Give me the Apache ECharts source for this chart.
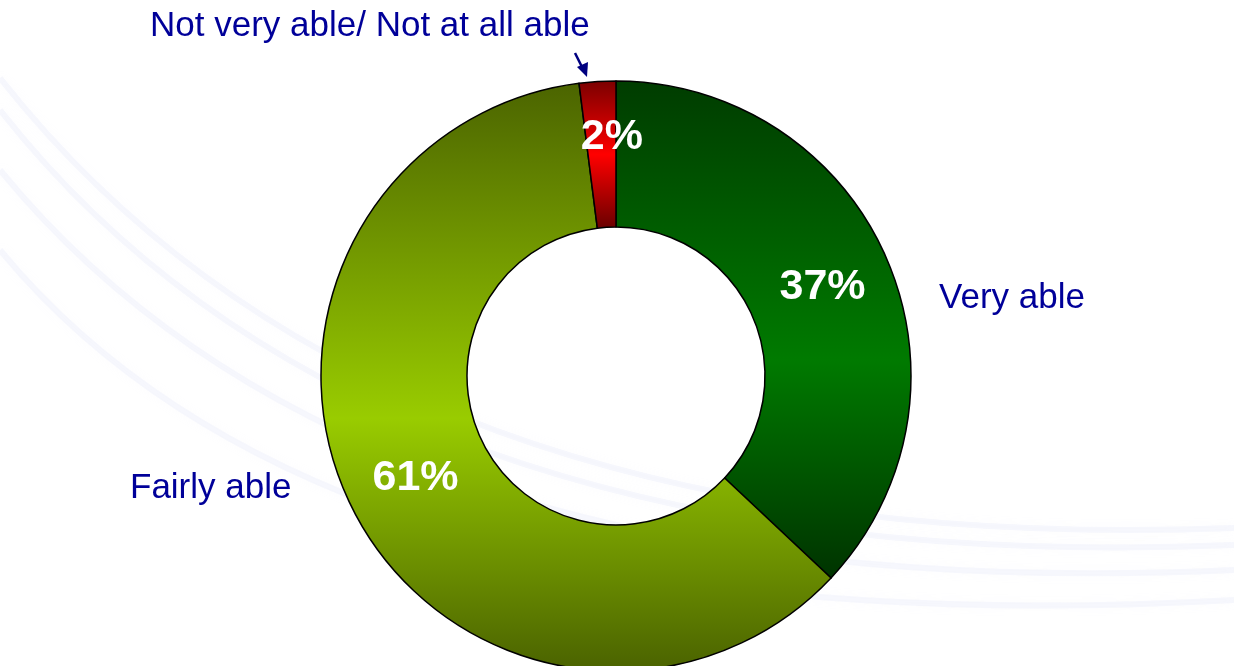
<!DOCTYPE html>
<html>
<head>
<meta charset="utf-8">
<title>Ability</title>
<script src="https://cdn.jsdelivr.net/npm/echarts@6/dist/echarts.min.js"></script>
<style>
  html, body { margin: 0; padding: 0; background: #ffffff; }
  #chart { width: 1234px; height: 666px; }
</style>
</head>
<body>
<div id="chart"></div>
<script>
// Survey answers, in clockwise order from 12 o'clock
const categories = ['Very able', 'Fairly able', 'Not very able/ Not at all able'];
const shares = [37, 61, 2];

// Vertical dark-light-dark fills for each slice
const sliceStops = [
  ['#003c00', '#007a00', '#003300'],
  ['#4b6400', '#99cc00', '#4a6200'],
  ['#7a0000', '#ff0000', '#680000']
];

function vGradient(stops, mid) {
  return new echarts.graphic.LinearGradient(0, 0, 0, 1, [
    { offset: 0, color: stops[0] },
    { offset: mid, color: stops[1] },
    { offset: 1, color: stops[2] }
  ]);
}
const mids = [0.56, 0.57, 0.5];

const chart = echarts.init(document.getElementById('chart'), null, { renderer: 'canvas' });

const labelFont = 'Liberation Sans, Arial, sans-serif';
const nameStyle = { fill: '#000099', font: '35px ' + labelFont };

// Faint background sweeps
const sweeps = [
  { x1: 0, y1: 78, cpx1: 380, cpy1: 560, x2: 1234, y2: 528 },
  { x1: 0, y1: 110, cpx1: 370, cpy1: 580, x2: 1234, y2: 545 },
  { x1: 0, y1: 170, cpx1: 360, cpy1: 610, x2: 1234, y2: 570 },
  { x1: 0, y1: 250, cpx1: 330, cpy1: 650, x2: 1234, y2: 600 }
].map(function (s) {
  return {
    type: 'bezierCurve',
    silent: true,
    z: -10,
    shape: s,
    style: { stroke: 'rgba(215,220,245,0.2)', lineWidth: 6, fill: null, shadowBlur: 10, shadowColor: 'rgba(215,220,245,0.4)' }
  };
});

chart.setOption({
  backgroundColor: '#ffffff',
  animation: false,
  graphic: sweeps.concat([
    { type: 'text', left: 939, top: 281, style: Object.assign({ text: categories[0] }, nameStyle) },
    { type: 'text', left: 130, top: 471, style: Object.assign({ text: categories[1] }, nameStyle) },
    { type: 'text', left: 150, top: 9, style: Object.assign({ text: categories[2] }, nameStyle) },
    {
      type: 'group',
      children: [
        { type: 'line', shape: { x1: 575, y1: 53, x2: 582, y2: 67 }, style: { stroke: '#000080', lineWidth: 2.5 } },
        { type: 'polygon', shape: { points: [[577, 67], [588, 62], [587, 77]] }, style: { fill: '#000080' } }
      ]
    }
  ]),
  series: [{
    type: 'pie',
    center: [616, 376],
    radius: [149, 295],
    startAngle: 90,
    clockwise: true,
    avoidLabelOverlap: false,
    itemStyle: { borderColor: '#000000', borderWidth: 1.5 },
    label: {
      show: true,
      position: 'inside',
      formatter: '{c}%',
      color: '#ffffff',
      fontFamily: labelFont,
      fontWeight: 'bold',
      fontSize: 43
    },
    labelLayout: function (p) {
      if (p.dataIndex === 2) return { dx: 10, dy: -14 };
      return {};
    },
    labelLine: { show: false },
    emphasis: { disabled: true },
    data: categories.map(function (name, i) {
      return {
        name: name,
        value: shares[i],
        itemStyle: { color: vGradient(sliceStops[i], mids[i]) }
      };
    })
  }]
});
</script>
</body>
</html>
